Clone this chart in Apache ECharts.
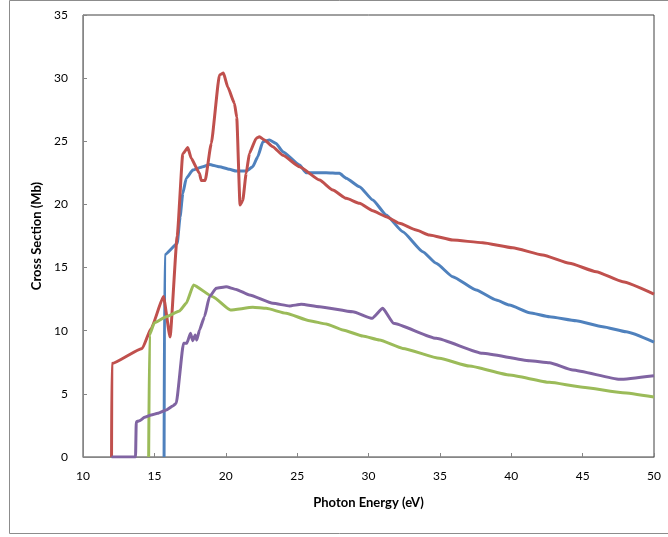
<!DOCTYPE html>
<html>
<head>
<meta charset="utf-8">
<script src="https://cdn.jsdelivr.net/npm/echarts@6/dist/echarts.min.js"></script>
<style>
html,body{margin:0;padding:0;background:#fff;}
#chart{width:668px;height:537px;}
</style>
</head>
<body>
<div id="chart"></div>
<script>
// Photon energy (eV), cross section (Mb) pairs
const redX = [12.0, 12.02, 14.15, 14.78, 15.64, 16.1, 16.6, 16.99, 17.34, 17.58, 18.16, 18.28, 18.56, 18.98, 19.56, 19.84, 20.14, 20.61, 20.77, 21.0, 21.19, 21.43, 21.66, 22.13, 22.36, 22.71, 23.3, 24.0, 25.17, 26.57, 27.5, 28.44, 29.37, 30.3, 31.24, 32.17, 33.34, 34.27, 35.9, 38.0, 40.1, 42.2, 44.08, 45.95, 47.81, 50.0];
const redY = [0, 7.4, 8.6, 10.2, 12.7, 9.5, 17.5, 24.0, 24.5, 23.65, 22.46, 21.9, 21.9, 24.8, 30.25, 30.4, 29.3, 28.0, 26.9, 19.95, 20.3, 22.46, 24.05, 25.23, 25.36, 25.1, 24.57, 23.9, 22.98, 21.93, 21.14, 20.48, 20.09, 19.5, 19.03, 18.5, 17.97, 17.58, 17.18, 16.97, 16.57, 16.0, 15.34, 14.67, 13.88, 12.9];

const blueX = [15.68, 15.72, 16.6, 16.8, 16.99, 17.23, 17.69, 18.39, 18.86, 19.56, 20.26, 20.73, 21.43, 21.89, 22.24, 22.6, 23.06, 23.53, 24.0, 25.17, 25.63, 27.03, 27.97, 28.44, 29.37, 30.3, 31.24, 32.4, 33.8, 34.74, 35.9, 37.54, 38.95, 39.88, 41.28, 42.68, 44.55, 46.41, 48.05, 50.0];
const blueY = [0, 16.0, 16.9, 19.0, 20.87, 22.06, 22.72, 22.98, 23.17, 22.98, 22.78, 22.64, 22.64, 22.98, 23.78, 24.96, 25.1, 24.83, 24.17, 23.12, 22.51, 22.51, 22.46, 22.07, 21.4, 20.35, 19.16, 17.84, 16.26, 15.34, 14.28, 13.22, 12.43, 12.03, 11.43, 11.11, 10.79, 10.32, 9.92, 9.1];

const greenX = [14.6, 14.66, 15.0, 15.83, 16.76, 17.23, 17.74, 19.09, 20.33, 21.9, 22.83, 24.23, 25.87, 27.03, 28.2, 29.6, 30.77, 32.4, 34.97, 37.07, 39.88, 42.68, 45.01, 47.81, 50.0];
const greenY = [0, 9.66, 10.63, 11.11, 11.56, 12.17, 13.62, 12.69, 11.64, 11.85, 11.77, 11.38, 10.79, 10.53, 10.06, 9.58, 9.26, 8.6, 7.81, 7.2, 6.49, 5.91, 5.52, 5.09, 4.75];

const purpleX = [12.0, 13.68, 13.73, 13.96, 14.31, 14.78, 15.24, 15.83, 16.29, 16.53, 17.04, 17.27, 17.53, 17.69, 17.86, 17.97, 18.16, 18.51, 18.86, 19.33, 20.03, 20.73, 21.66, 23.3, 24.47, 25.29, 26.57, 28.9, 30.26, 31.0, 31.75, 34.74, 38.0, 41.28, 42.68, 44.31, 47.58, 50.0];
const purpleY = [0, 0, 2.8, 2.87, 3.14, 3.33, 3.46, 3.72, 4.04, 4.25, 9.0, 9.0, 9.79, 9.21, 9.66, 9.26, 10.06, 11.11, 12.69, 13.36, 13.48, 13.27, 12.83, 12.17, 11.96, 12.09, 11.9, 11.5, 10.98, 11.77, 10.59, 9.4, 8.21, 7.63, 7.47, 6.89, 6.15, 6.44];

const xTicks = [10, 15, 20, 25, 30, 35, 40, 45, 50];
const yTicks = [0, 5, 10, 15, 20, 25, 30, 35];

function pairs(xs, ys) { return xs.map((x, i) => [x, ys[i]]); }

const chart = echarts.init(document.getElementById('chart'), null, {renderer: 'canvas'});
const font = 'Lato, "Open Sans", sans-serif';
function line(name, xs, ys, color) {
  return {
    name: name, type: 'line', data: pairs(xs, ys), showSymbol: false,
    smooth: 0.15, smoothMonotone: 'x',
    lineStyle: {color: color, width: 3}, itemStyle: {color: color}, z: 3
  };
}
chart.setOption({
  animation: false,
  backgroundColor: '#fff',
  graphic: [{
    type: 'rect', shape: {x: 9.5, y: 0.5, width: 670, height: 533},
    style: {fill: 'none', stroke: '#8c8c8c', lineWidth: 1}, z: -1
  }],
  grid: {left: 83, right: 14, top: 15, bottom: 80, show: true, borderColor: '#404040', borderWidth: 1, backgroundColor: 'transparent'},
  xAxis: {
    type: 'value', min: xTicks[0], max: xTicks[xTicks.length - 1], interval: 5,
    name: 'Photon Energy (eV)', nameLocation: 'middle', nameGap: 39,
    nameTextStyle: {fontFamily: font, fontWeight: 'bold', fontSize: 13, color: '#000'},
    axisLine: {lineStyle: {color: '#868686', width: 1}},
    axisTick: {inside: true, length: 4, lineStyle: {color: '#868686'}},
    axisLabel: {fontFamily: font, fontSize: 12, color: '#000', margin: 13},
    splitLine: {show: false}
  },
  yAxis: {
    type: 'value', min: yTicks[0], max: yTicks[yTicks.length - 1], interval: 5,
    name: 'Cross Section (Mb)', nameLocation: 'middle', nameGap: 39,
    nameTextStyle: {fontFamily: font, fontWeight: 'bold', fontSize: 13, color: '#000'},
    axisLine: {show: true, lineStyle: {color: '#868686', width: 1}},
    axisTick: {show: true, inside: true, length: 4, lineStyle: {color: '#868686'}},
    axisLabel: {fontFamily: font, fontSize: 12, color: '#000', margin: 15},
    splitLine: {show: false}
  },
  series: [
    line('Blue', blueX, blueY, '#4F81BD'),
    line('Red', redX, redY, '#C0504D'),
    line('Green', greenX, greenY, '#9BBB59'),
    line('Purple', purpleX, purpleY, '#8064A2')
  ]
});
</script>
</body>
</html>
